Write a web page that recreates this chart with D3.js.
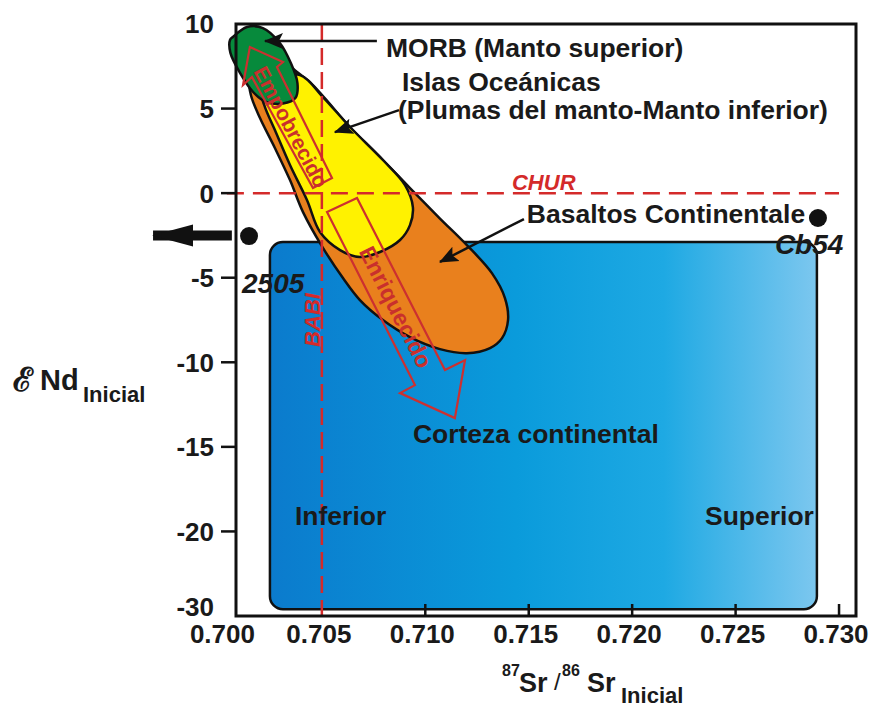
<!DOCTYPE html>
<html>
<head>
<meta charset="utf-8">
<script src="https://cdn.jsdelivr.net/npm/d3@7"></script>
<style>body{margin:0;background:#fff}</style>
</head>
<body>
<script>
const font = "'Liberation Sans', Arial, sans-serif"

// axis ticks (the bottom tick is printed "-30" in the original)
const xTicks = [0.700, 0.705, 0.710, 0.715, 0.720, 0.725, 0.730]
const xTickLabels = ["0.700", "0.705", "0.710", "0.715", "0.720", "0.725", "0.730"]
const yTicks = [10, 5, 0, -5, -10, -15, -20, -25]
const yTickLabels = ["10", "5", "0", "-5", "-10", "-15", "-20", "-30"]

// fields, [87Sr/86Sr, eNd]
const morb = [[0.70070, 9.23], [0.70138, 9.82], [0.70215, 9.76], [0.70297, 8.88], [0.70350, 7.69],
  [0.70382, 6.51], [0.70372, 5.62], [0.70312, 5.30], [0.70230, 5.40], [0.70170, 5.95],
  [0.70105, 7.10], [0.70058, 8.29], [0.70056, 9.05]]
const islas = [[0.70249, 6.69], [0.70394, 6.98], [0.70505, 5.68], [0.70636, 3.91], [0.70795, 1.96],
  [0.70902, 0.48], [0.70940, -0.82], [0.70926, -1.89], [0.70878, -2.77], [0.70781, -3.48],
  [0.70684, -3.78], [0.70588, -3.37], [0.70491, -2.30], [0.70428, -0.41], [0.70346, 1.66],
  [0.70273, 3.73], [0.70225, 5.09], [0.70210, 5.80]]
const basaltos = [[0.70191, 7.99], [0.70288, 7.99], [0.70380, 7.16], [0.70452, 6.45], [0.70515, 5.60],
  [0.70640, 3.85], [0.70800, 1.90], [0.70926, 0.30], [0.71071, -1.50], [0.71201, -3.07],
  [0.71322, -4.73], [0.71385, -6.20], [0.71400, -7.50], [0.71371, -8.57], [0.71313, -9.16],
  [0.71201, -9.46], [0.71071, -9.22], [0.70926, -8.51], [0.70795, -7.50], [0.70684, -6.32],
  [0.70602, -5.02], [0.70500, -3.13], [0.70409, -1.12], [0.70346, 0.77], [0.70273, 2.67],
  [0.70201, 4.44], [0.70157, 5.80], [0.70148, 6.98]]
const corteza = [[0.70249, -2.89], [0.72893, -24.60]]

// reference lines
const chur = 0
const babi = 0.705
const churRange = [0.70041, 0.7300]

// samples
const samples = [
  {name: "2505", sr: 0.70148, nd: -2.54},
  {name: "Cb54", sr: 0.72898, nd: -1.47}
]

// hollow arrows
const empobrecido = [[0.70549, 0.89], [0.70283, 7.46], [0.70312, 7.75], [0.70152, 8.64],
  [0.70119, 6.39], [0.70162, 6.87], [0.70457, 0.30]]
const enriquecido = [[0.70525, -1.12], [0.70670, -0.29], [0.71095, -10.46], [0.71192, -9.87],
  [0.71143, -13.30], [0.70878, -11.82], [0.70950, -11.35]]

// labels: text, anchor [Sr, eNd]
const notes = [
  {text: "MORB (Manto superior)", at: [0.70810, 8.05]},
  {text: "Islas Oceánicas", at: [0.70887, 6.04]},
  {text: "(Plumas del manto-Manto inferior)", at: [0.70868, 4.38]},
  {text: "Basaltos Continentale", at: [0.71491, -1.77]},
  {text: "Corteza continental", at: [0.70940, -14.78]},
  {text: "Inferior", at: [0.70370, -19.63]},
  {text: "Superior", at: [0.72352, -19.63]}
]
// pointer arrows: from, to
const pointers = [
  [[0.70766, 9.00], [0.70225, 9.00]],
  [[0.70873, 4.91], [0.70563, 3.61]],
  [[0.71477, -1.53], [0.71071, -4.07]]
]
const leftArrow = [[0.70065, -2.50], [0.69684, -2.50]]

const svg = d3.select("body").append("svg")
  .attr("width", 873)
  .attr("height", 707)

const x = d3.scaleLinear().domain([0.70085, 0.73082]).range([236, 856])
const y = d3.scaleLinear().domain([-25, 10]).range([616, 24])

const defs = svg.append("defs")
const grad = defs.append("linearGradient").attr("id", "blue")
grad.append("stop").attr("offset", "0").attr("stop-color", "#0b7bcd")
grad.append("stop").attr("offset", "0.45").attr("stop-color", "#0a9bdb")
grad.append("stop").attr("offset", "0.72").attr("stop-color", "#1ea9e3")
grad.append("stop").attr("offset", "1").attr("stop-color", "#7cc7ef")

defs.append("marker")
  .attr("id", "head")
  .attr("markerUnits", "userSpaceOnUse")
  .attr("viewBox", "0 -9 20 18")
  .attr("refX", 18).attr("refY", 0)
  .attr("markerWidth", 20).attr("markerHeight", 18)
  .attr("orient", "auto")
  .append("path").attr("d", "M0,-8L19,0L0,8L4,0Z").attr("fill", "#111")

defs.append("marker")
  .attr("id", "bighead")
  .attr("markerUnits", "userSpaceOnUse")
  .attr("viewBox", "0 -12 42 24")
  .attr("refX", 40).attr("refY", 0)
  .attr("markerWidth", 42).attr("markerHeight", 24)
  .attr("orient", "auto")
  .append("path").attr("d", "M0,-11L41,0L0,11Z").attr("fill", "#111")

// crust box
svg.append("rect")
  .attr("x", x(corteza[0][0]))
  .attr("y", y(corteza[0][1]))
  .attr("width", x(corteza[1][0]) - x(corteza[0][0]))
  .attr("height", y(corteza[1][1]) - y(corteza[0][1]))
  .attr("rx", 13)
  .attr("fill", "url(#blue)")
  .attr("stroke", "#111")
  .attr("stroke-width", 2.5)

const blob = d3.line()
  .x(d => x(d[0]))
  .y(d => y(d[1]))
  .curve(d3.curveCatmullRomClosed.alpha(0.5))

svg.append("path").attr("d", blob(basaltos))
  .attr("fill", "#e9801d").attr("stroke", "#111").attr("stroke-width", 2.5)
svg.append("path").attr("d", blob(islas))
  .attr("fill", "#fff200").attr("stroke", "#111").attr("stroke-width", 2.5)
svg.append("path").attr("d", blob(morb))
  .attr("fill", "#078a3c").attr("stroke", "#111").attr("stroke-width", 2.5)

// hollow red arrows
const poly = d3.line().x(d => x(d[0])).y(d => y(d[1])).curve(d3.curveLinearClosed)
svg.selectAll(".hollow")
  .data([empobrecido, enriquecido])
  .enter()
  .append("path")
  .attr("class", "hollow")
  .attr("d", poly)
  .attr("fill", "none")
  .attr("stroke", "#cc3030")
  .attr("stroke-width", 2.2)

const red = "#c9302c"
svg.append("text")
  .attr("transform", `translate(${x(0.70351)},${y(3.91)}) rotate(62)`)
  .attr("text-anchor", "middle")
  .attr("dy", "0.35em")
  .style("font-family", font).style("font-weight", "bold").style("font-size", "21px")
  .attr("fill", red)
  .text("Empobrecido")
svg.append("text")
  .attr("transform", `translate(${x(0.70858)},${y(-6.74)}) rotate(63)`)
  .attr("text-anchor", "middle")
  .attr("dy", "0.35em")
  .style("font-family", font).style("font-weight", "bold").style("font-size", "23px")
  .attr("fill", red)
  .text("Enriquecido")

// dashed reference lines
svg.append("line")
  .attr("x1", x(churRange[0])).attr("x2", x(churRange[1]))
  .attr("y1", y(chur)).attr("y2", y(chur))
  .attr("stroke", "#d42a2a").attr("stroke-width", 2.5)
  .attr("stroke-dasharray", "17,9")
svg.append("line")
  .attr("x1", x(babi)).attr("x2", x(babi))
  .attr("y1", y(10)).attr("y2", y(-25))
  .attr("stroke", "#d42a2a").attr("stroke-width", 2.5)
  .attr("stroke-dasharray", "17,7")

svg.append("text")
  .attr("x", x(0.71419)).attr("y", y(0.18))
  .style("font-family", font).style("font-weight", "bold").style("font-style", "italic")
  .style("font-size", "22px")
  .attr("fill", "#d42a2a")
  .text("CHUR")
svg.append("text")
  .attr("transform", `translate(${x(0.70491)},${y(-7.5)}) rotate(-90)`)
  .attr("text-anchor", "middle")
  .style("font-family", font).style("font-weight", "bold").style("font-style", "italic")
  .style("font-size", "22px")
  .attr("fill", "#d42a2a")
  .text("BABI")

// pointers
svg.selectAll(".pointer")
  .data(pointers)
  .enter()
  .append("line")
  .attr("class", "pointer")
  .attr("x1", d => x(d[0][0])).attr("y1", d => y(d[0][1]))
  .attr("x2", d => x(d[1][0])).attr("y2", d => y(d[1][1]))
  .attr("stroke", "#111").attr("stroke-width", 2.5)
  .attr("marker-end", "url(#head)")

svg.append("line")
  .attr("x1", x(leftArrow[0][0])).attr("y1", y(leftArrow[0][1]))
  .attr("x2", x(leftArrow[1][0])).attr("y2", y(leftArrow[1][1]))
  .attr("stroke", "#111").attr("stroke-width", 10)
  .attr("marker-end", "url(#bighead)")

svg.selectAll(".note")
  .data(notes)
  .enter()
  .append("text")
  .attr("class", "note")
  .attr("x", d => x(d.at[0]))
  .attr("y", d => y(d.at[1]))
  .style("font-family", font).style("font-weight", "bold").style("font-size", "26.5px")
  .attr("fill", "#1a1a1a")
  .text(d => d.text)

// samples
svg.selectAll(".sample")
  .data(samples)
  .enter()
  .append("circle")
  .attr("class", "sample")
  .attr("cx", d => x(d.sr))
  .attr("cy", d => y(d.nd))
  .attr("r", 9)
  .attr("fill", "#111")

svg.append("text")
  .attr("x", x(0.70114)).attr("y", y(-5.91))
  .style("font-family", font).style("font-weight", "bold").style("font-style", "italic")
  .style("font-size", "28px").attr("fill", "#1a1a1a")
  .text(samples[0].name)
svg.append("text")
  .attr("x", x(0.72690)).attr("y", y(-3.60))
  .style("font-family", font).style("font-weight", "bold").style("font-style", "italic")
  .style("font-size", "28px").attr("fill", "#1a1a1a")
  .text(samples[1].name)

// frame and axes
svg.append("rect")
  .attr("x", x.range()[0]).attr("y", y.range()[1])
  .attr("width", x.range()[1] - x.range()[0])
  .attr("height", y.range()[0] - y.range()[1])
  .attr("fill", "none").attr("stroke", "#111").attr("stroke-width", 3)

svg.selectAll(".xtick")
  .data(xTicks.slice(2))
  .enter()
  .append("line")
  .attr("x1", d => x(d)).attr("x2", d => x(d))
  .attr("y1", y(-25)).attr("y2", y(-25) - 12)
  .attr("stroke", "#111").attr("stroke-width", 2.5)

svg.selectAll(".xlab")
  .data(xTicks)
  .enter()
  .append("text")
  .attr("x", d => x(d) + (d === 0.700 ? 4 : -3))
  .attr("y", 643)
  .attr("text-anchor", "middle")
  .style("font-family", font).style("font-weight", "bold").style("font-size", "26px")
  .attr("fill", "#1a1a1a")
  .text((d, i) => xTickLabels[i])

svg.selectAll(".ytick")
  .data(yTicks.slice(1, 7))
  .enter()
  .append("line")
  .attr("x1", x.range()[0] - 15).attr("x2", x.range()[0])
  .attr("y1", d => y(d)).attr("y2", d => y(d))
  .attr("stroke", "#111").attr("stroke-width", 2.5)

svg.selectAll(".ylab")
  .data(yTicks)
  .enter()
  .append("text")
  .attr("x", 214)
  .attr("y", d => y(d) + (d === -25 ? -9 : 0))
  .attr("dy", "0.36em")
  .attr("text-anchor", "end")
  .style("font-family", font).style("font-weight", "bold").style("font-size", "26px")
  .attr("fill", "#1a1a1a")
  .text((d, i) => yTickLabels[i])

// x title
const xt = svg.append("g").style("font-family", font).style("font-weight", "bold").attr("fill", "#1a1a1a")
xt.append("text").attr("x", 502).attr("y", 676).style("font-size", "16px").text("87")
xt.append("text").attr("x", 519).attr("y", 692).style("font-size", "27px").text("Sr")
xt.append("text").attr("x", 554).attr("y", 690).style("font-size", "24px").style("font-weight", "normal").text("/")
xt.append("text").attr("x", 562).attr("y", 676).style("font-size", "16px").text("86")
xt.append("text").attr("x", 587).attr("y", 692).style("font-size", "27px").text("Sr")
xt.append("text").attr("x", 621).attr("y", 703).style("font-size", "22px").text("Inicial")

// y title
const yt = svg.append("g").style("font-weight", "bold").attr("fill", "#1a1a1a")
yt.append("text").attr("x", 13).attr("y", 391).style("font-family", "'DejaVu Serif', serif")
  .style("font-size", "33px").text("ℰ")
yt.append("text").attr("x", 40).attr("y", 390).style("font-family", font)
  .style("font-size", "29px").text("Nd")
yt.append("text").attr("x", 83).attr("y", 402).style("font-family", font)
  .style("font-size", "22px").text("Inicial")
</script>
</body>
</html>
